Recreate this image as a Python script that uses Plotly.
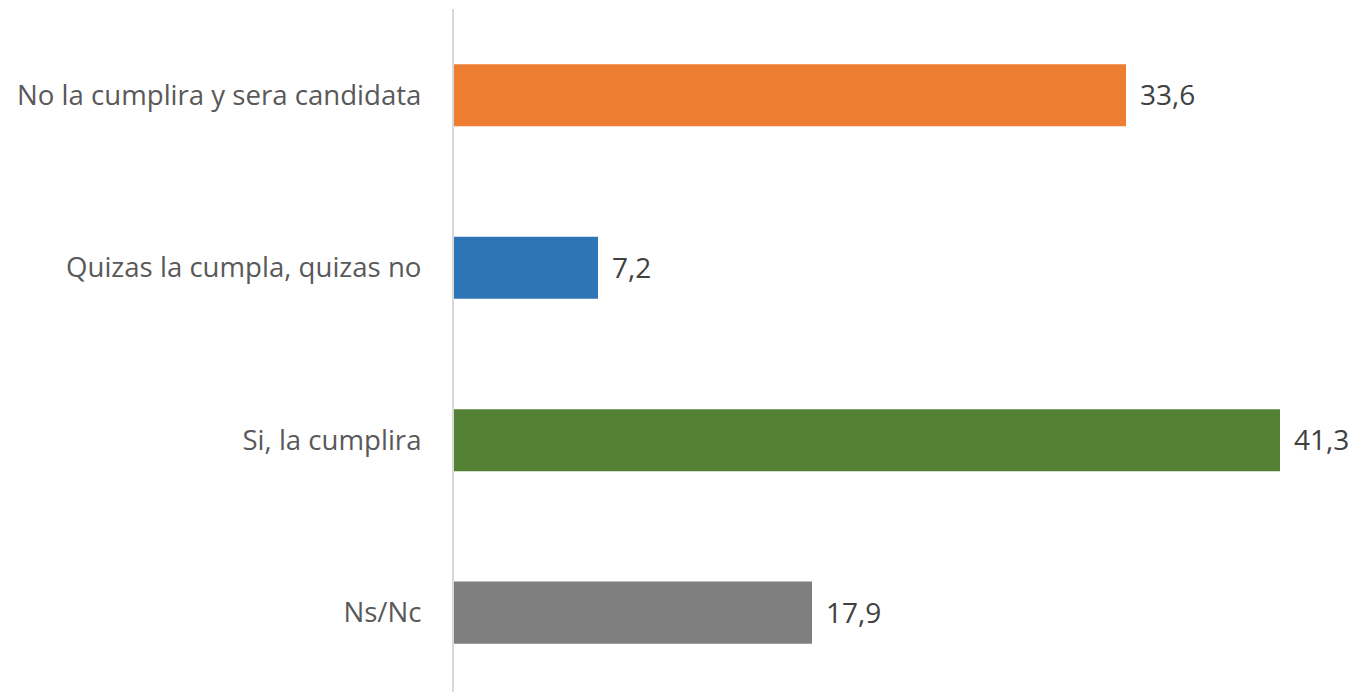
import plotly.graph_objects as go

categories = ["Ns/Nc", "Si, la cumplira", "Quizas la cumpla, quizas no", "No la cumplira y sera candidata"]
values = [17.9, 41.3, 7.2, 33.6]
labels = ["17,9", "41,3", "7,2", "33,6"]
colors = ["#7F7F7F", "#548235", "#2E75B6", "#ED7D31"]

fig = go.Figure()
fig.add_trace(go.Bar(
    y=categories, x=values, orientation="h",
    marker=dict(color=colors, line=dict(width=0)),
    width=0.36, hoverinfo="skip",
))
for c, v, t in zip(categories, values, labels):
    fig.add_annotation(x=v, y=c, text=t, showarrow=False, xanchor="left",
                       xshift=12, yshift=1, font=dict(size=28, color="#404040", family="Open Sans"))

fig.update_layout(
    width=1351, height=684,
    margin=dict(l=446, r=0, t=1, b=0),
    plot_bgcolor="white", paper_bgcolor="white",
    showlegend=False,
    font=dict(family="Open Sans", size=27.6, color="#595959"),
    xaxis=dict(range=[0, 45.25], visible=False, fixedrange=True),
    yaxis=dict(range=[-0.46, 3.5], showline=True, linecolor="#D9D9D9", linewidth=2,
               ticks="", ticklabelstandoff=25, showgrid=False, zeroline=False,
               tickfont=dict(size=27.6, color="#595959"), fixedrange=True,
               categoryorder="array", categoryarray=categories),
)
fig.write_html("out.html", config={"displayModeBar": False})
